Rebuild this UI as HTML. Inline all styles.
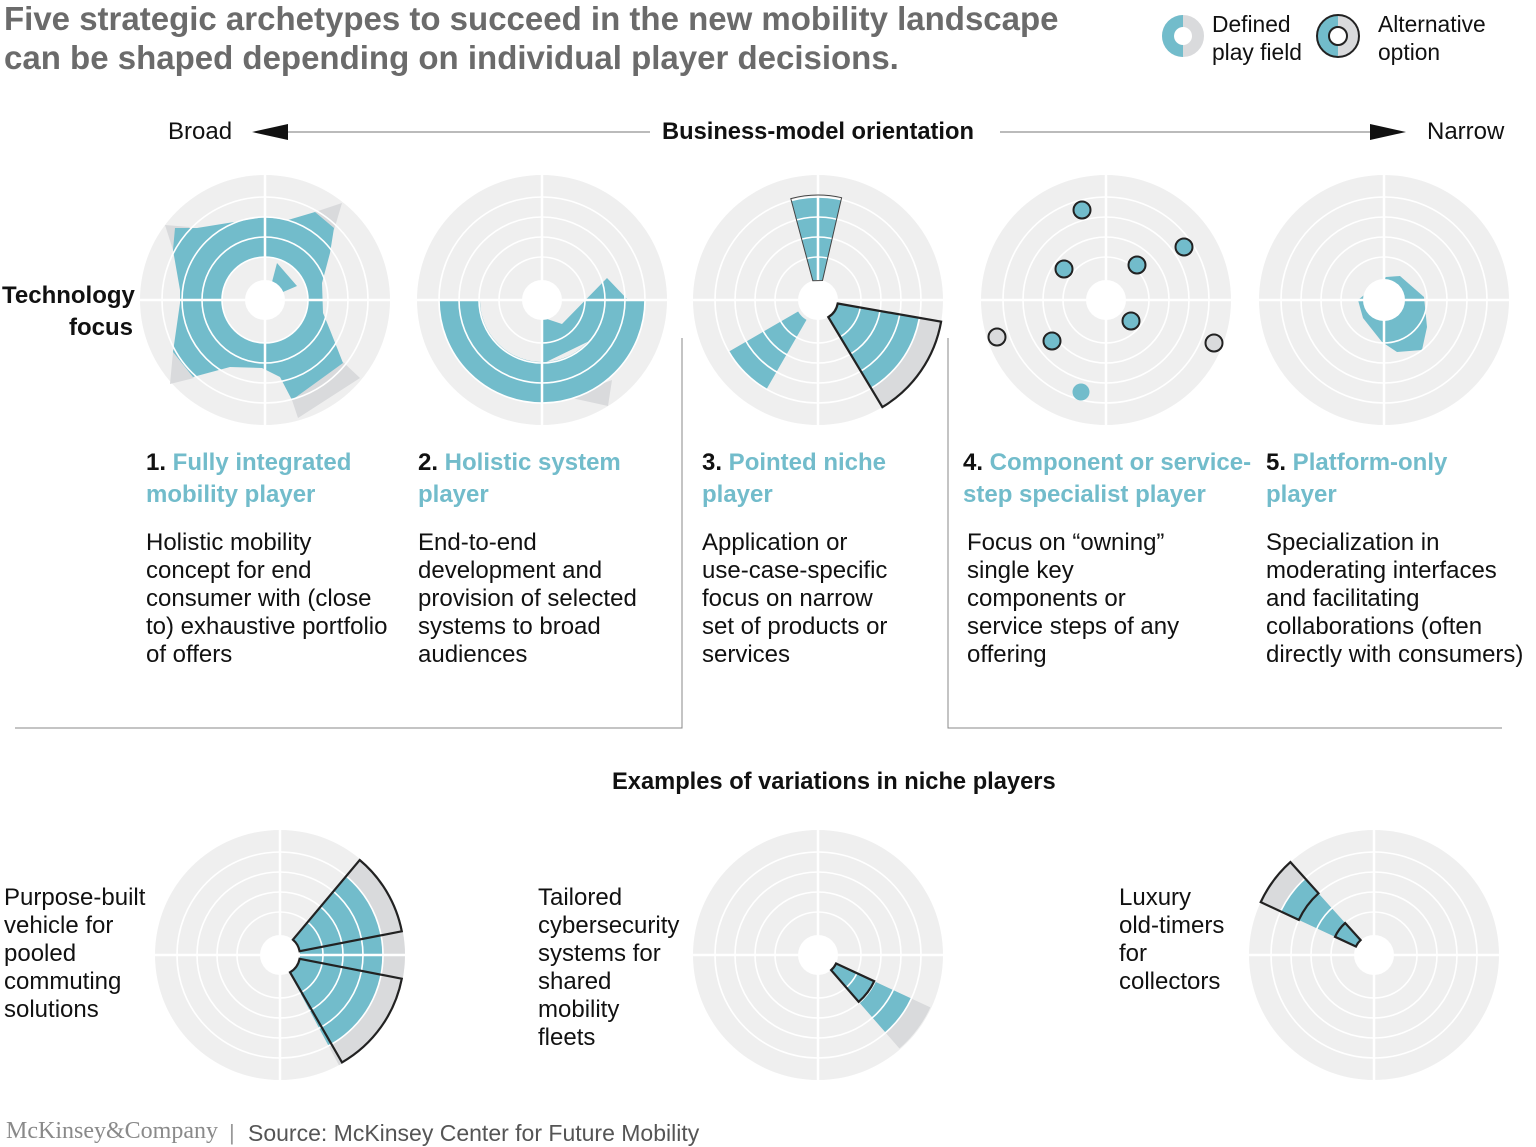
<!DOCTYPE html>
<html><head><meta charset="utf-8"><style>
body{margin:0;width:1536px;height:1146px;background:#fff;position:relative;overflow:hidden;font-family:"Liberation Sans",Arial,sans-serif;color:#111}
.t{position:absolute;white-space:nowrap}
.title{left:4px;top:-1px;font-size:33px;font-weight:bold;color:#6b6b6b;line-height:39px}
.h{font-size:24px;font-weight:bold;color:#72bccb;line-height:32px}
.h b{color:#111}
.b{font-size:24px;line-height:28px}
svg{position:absolute;left:0;top:0}
</style></head><body>
<svg width="1536" height="1146" viewBox="0 0 1536 1146">
<defs>
<g id="grid">
<circle r="125" fill="#efefef"/>
</g>
<g id="lines" fill="none" stroke="#fff" stroke-width="1.6">
<circle r="43"/><circle r="63"/><circle r="83"/><circle r="103"/>
<line x1="-126" y1="0" x2="126" y2="0" stroke-width="2.5"/><line x1="0" y1="-126" x2="0" y2="126" stroke-width="2.5"/>
</g>
</defs>
<!-- legend -->
<circle cx="1183" cy="36" r="15" fill="none" stroke="#d9dadc" stroke-width="12"/>
<path d="M1183 15 A21 21 0 0 0 1183 57 L1183 45 A9 9 0 0 1 1183 27 Z" fill="#72bccb"/>
<circle cx="1338" cy="36" r="15" fill="none" stroke="#d9dadc" stroke-width="12"/>
<path d="M1338 15 A21 21 0 0 0 1338 57 L1338 45 A9 9 0 0 1 1338 27 Z" fill="#72bccb"/>
<circle cx="1338" cy="36" r="21" fill="none" stroke="#222" stroke-width="2"/>
<circle cx="1338" cy="36" r="9" fill="#fff" stroke="#222" stroke-width="2"/>
<!-- arrows -->
<line x1="285" y1="132" x2="650" y2="132" stroke="#777" stroke-width="1"/>
<polygon points="252,132 288,124 288,140" fill="#111"/>
<line x1="1000" y1="132" x2="1372" y2="132" stroke="#777" stroke-width="1"/>
<polygon points="1406,132 1370,124 1370,140" fill="#111"/>
<!-- separators -->
<g stroke="#888" stroke-width="1" fill="none">
<polyline points="15,728 682,728 682,338"/>
<polyline points="948,338 948,728 1502,728"/>
</g>

<!-- chart 1 -->
<use href="#grid" x="265" y="300"/>
<polygon fill="#d9dadc" points="165,225 190,227 173,250"/>
<polygon fill="#d9dadc" points="342,203 315,212 334,230"/>
<polygon fill="#d9dadc" points="170,384 173,352 194,378"/>
<polygon fill="#d9dadc" points="298,418 360,378 343,362 292,400"/>
<polygon fill="#72bccb" points="175,228 197,228 265,217 288,220 315,212 334,228 330,253 322,283 323,313 330,330 343,363 292,400 280,377 262,368 230,367 193,377 173,352 180,303 180,290 173,250"/>
<circle cx="265" cy="300" r="43" fill="#efefef"/>
<polygon fill="#72bccb" points="277,263 297,286 283,292 272,282"/>
<circle cx="265" cy="300" r="20" fill="#fff"/>
<use href="#lines" x="265" y="300"/>

<!-- chart 2 -->
<use href="#grid" x="542" y="300"/>
<polygon fill="#d9dadc" points="567,397 612,380 608,406"/>
<circle cx="542" cy="300" r="82.5" fill="none" stroke="#72bccb" stroke-width="41" pathLength="360" stroke-dasharray="180 360"/>
<polygon fill="#72bccb" points="542,364 541,317 562,324 607,278 628,300 622,300 612,330"/>
<circle cx="542" cy="300" r="20" fill="#fff"/>
<use href="#lines" x="542" y="300"/>

<!-- chart 3 -->
<use href="#grid" x="818" y="300"/>
<path d="M837.7 303.5 L941.1 321.7 A125 125 0 0 1 882.4 407.1 L828.3 317.1 A20 20 0 0 0 837.7 303.5 Z" fill="#d9dadc"/>
<circle cx="818" cy="300" r="61.5" fill="none" stroke="#72bccb" stroke-width="83" pathLength="360" stroke-dasharray="49 360" transform="rotate(10 818 300)"/>
<circle cx="818" cy="300" r="61.5" fill="none" stroke="#72bccb" stroke-width="83" pathLength="360" stroke-dasharray="28 360" transform="rotate(-105 818 300)"/>
<circle cx="818" cy="300" r="63" fill="none" stroke="#72bccb" stroke-width="80" pathLength="360" stroke-dasharray="30 360" transform="rotate(120 818 300)"/>
<circle cx="818" cy="300" r="20" fill="#fff"/>
<use href="#lines" x="818" y="300"/>
<path d="M837.7 303.5 L941.1 321.7 A125 125 0 0 1 882.4 407.1 L828.3 317.1 A20 20 0 0 0 837.7 303.5 Z" fill="none" stroke="#222" stroke-width="2.2"/>
<path d="M812.8 280.7 L790.8 198.6 A105 105 0 0 1 841.6 197.7 L822.5 280.5 Z" fill="none" stroke="#444" stroke-width="1"/>

<!-- chart 4 -->
<use href="#grid" x="1106" y="300"/>
<circle cx="1106" cy="300" r="20" fill="#fff"/>
<use href="#lines" x="1106" y="300"/>
<g stroke="#222" stroke-width="2" fill="#72bccb">
<circle cx="1082" cy="210" r="8.5"/><circle cx="1184" cy="247" r="8.5"/><circle cx="1064" cy="269" r="8.5"/><circle cx="1137" cy="265" r="8.5"/><circle cx="1131" cy="321" r="8.5"/><circle cx="1052" cy="341" r="8.5"/>
<circle cx="997" cy="337" r="8.5" fill="#d9dadc"/><circle cx="1214" cy="343" r="8.5" fill="#d9dadc"/>
</g>
<circle cx="1081" cy="392" r="8.5" fill="#72bccb"/>

<!-- chart 5 -->
<use href="#grid" x="1384" y="300"/>
<polygon fill="#72bccb" points="1386,277 1400,276 1424,297 1427,327 1422,350 1397,352 1382,342 1363,318 1358,300"/>
<circle cx="1384" cy="300" r="21" fill="#fff"/>
<use href="#lines" x="1384" y="300"/>

<!-- bottom A -->
<use href="#grid" x="280" y="955"/>
<circle cx="280" cy="955" r="72" fill="none" stroke="#d9dadc" stroke-width="106" pathLength="360" stroke-dasharray="112 360" transform="rotate(-50 280 955)"/>
<circle cx="280" cy="955" r="61.5" fill="none" stroke="#72bccb" stroke-width="83" pathLength="360" stroke-dasharray="112 360" transform="rotate(-50 280 955)"/>
<circle cx="280" cy="955" r="20" fill="#fff"/>
<use href="#lines" x="280" y="955"/>
<g fill="none" stroke="#222" stroke-width="2.2">
<path d="M292.9 939.7 L359.7 860 A124 124 0 0 1 401.8 931.3 L299.6 951.2 A20 20 0 0 0 292.9 939.7 Z"/>
<path d="M299.6 958.8 L401.8 978.7 A124 124 0 0 1 342 1062.4 L290 972.3 A20 20 0 0 0 299.6 958.8 Z"/>
</g>

<!-- bottom B -->
<use href="#grid" x="818" y="955"/>
<circle cx="818" cy="955" r="72" fill="none" stroke="#d9dadc" stroke-width="104" pathLength="360" stroke-dasharray="24 360" transform="rotate(25 818 955)"/>
<circle cx="818" cy="955" r="61.5" fill="none" stroke="#72bccb" stroke-width="83" pathLength="360" stroke-dasharray="24 360" transform="rotate(25 818 955)"/>
<circle cx="818" cy="955" r="20" fill="#fff"/>
<use href="#lines" x="818" y="955"/>
<path d="M836.1 963.5 L874.2 981.2 A62 62 0 0 1 858.7 1001.8 L831.1 970.1 A20 20 0 0 0 836.1 963.5 Z" fill="none" stroke="#222" stroke-width="2.2"/>

<!-- bottom C -->
<use href="#grid" x="1374" y="955"/>
<circle cx="1374" cy="955" r="72" fill="none" stroke="#d9dadc" stroke-width="106" pathLength="360" stroke-dasharray="23 360" transform="rotate(-155 1374 955)"/>
<circle cx="1374" cy="955" r="61.5" fill="none" stroke="#72bccb" stroke-width="83" pathLength="360" stroke-dasharray="23 360" transform="rotate(-155 1374 955)"/>
<circle cx="1374" cy="955" r="20" fill="#fff"/>
<use href="#lines" x="1374" y="955"/>
<g fill="none" stroke="#222" stroke-width="2.2">
<path d="M1298.8 919.9 L1260.7 902.1 A125 125 0 0 1 1290.4 862.1 L1318.5 893.3 A83 83 0 0 0 1298.8 919.9 Z"/>
<path d="M1355.9 946.5 L1335 936.8 A43 43 0 0 1 1345.2 923 L1360.6 940.1 A20 20 0 0 0 1355.9 946.5 Z"/>
</g>
</svg>

<div class="t title">Five strategic archetypes to succeed in the new mobility landscape<br>can be shaped depending on individual player decisions.</div>
<div class="t b" style="left:1212px;top:10px;font-size:22.8px;line-height:28px">Defined<br>play field</div>
<div class="t b" style="left:1378px;top:10px;font-size:22.8px;line-height:28px">Alternative<br>option</div>
<div class="t b" style="left:168px;top:118px">Broad</div>
<div class="t b" style="left:662px;top:118px;font-weight:bold;font-size:23.7px">Business-model orientation</div>
<div class="t b" style="left:1427px;top:118px">Narrow</div>
<div class="t b" style="left:2px;top:280px;font-weight:bold;text-align:right;width:131px;line-height:32px">Technology<br>focus</div>

<div class="t h" style="left:146px;top:447px"><b>1.</b> Fully integrated<br>mobility player</div>
<div class="t h" style="left:418px;top:447px"><b>2.</b> Holistic system<br>player</div>
<div class="t h" style="left:702px;top:447px"><b>3.</b> Pointed niche<br>player</div>
<div class="t h" style="left:963px;top:447px"><b>4.</b> Component or service-<br>step specialist player</div>
<div class="t h" style="left:1266px;top:447px"><b>5.</b> Platform-only<br>player</div>

<div class="t b" style="left:146px;top:529px">Holistic mobility<br>concept for end<br>consumer with (close<br>to) exhaustive portfolio<br>of offers</div>
<div class="t b" style="left:418px;top:529px">End-to-end<br>development and<br>provision of selected<br>systems to broad<br>audiences</div>
<div class="t b" style="left:702px;top:529px">Application or<br>use-case-specific<br>focus on narrow<br>set of products or<br>services</div>
<div class="t b" style="left:967px;top:529px">Focus on “owning”<br>single key<br>components or<br>service steps of any<br>offering</div>
<div class="t b" style="left:1266px;top:529px">Specialization in<br>moderating interfaces<br>and facilitating<br>collaborations (often<br>directly with consumers)</div>

<div class="t b" style="left:612px;top:768px;font-weight:bold;font-size:23.7px">Examples of variations in niche players</div>
<div class="t b" style="left:4px;top:884px">Purpose-built<br>vehicle for<br>pooled<br>commuting<br>solutions</div>
<div class="t b" style="left:538px;top:884px">Tailored<br>cybersecurity<br>systems for<br>shared<br>mobility<br>fleets</div>
<div class="t b" style="left:1119px;top:884px">Luxury<br>old-timers<br>for<br>collectors</div>

<div class="t" style="left:6px;top:1118px;font-family:'Liberation Serif',serif;font-size:24px;color:#8a8a8a">McKinsey&amp;Company</div>
<div class="t" style="left:229px;top:1120px;font-size:22px;color:#999">|</div>
<div class="t" style="left:248px;top:1120px;font-size:23px;color:#555">Source: McKinsey Center for Future Mobility</div>
</body></html>
